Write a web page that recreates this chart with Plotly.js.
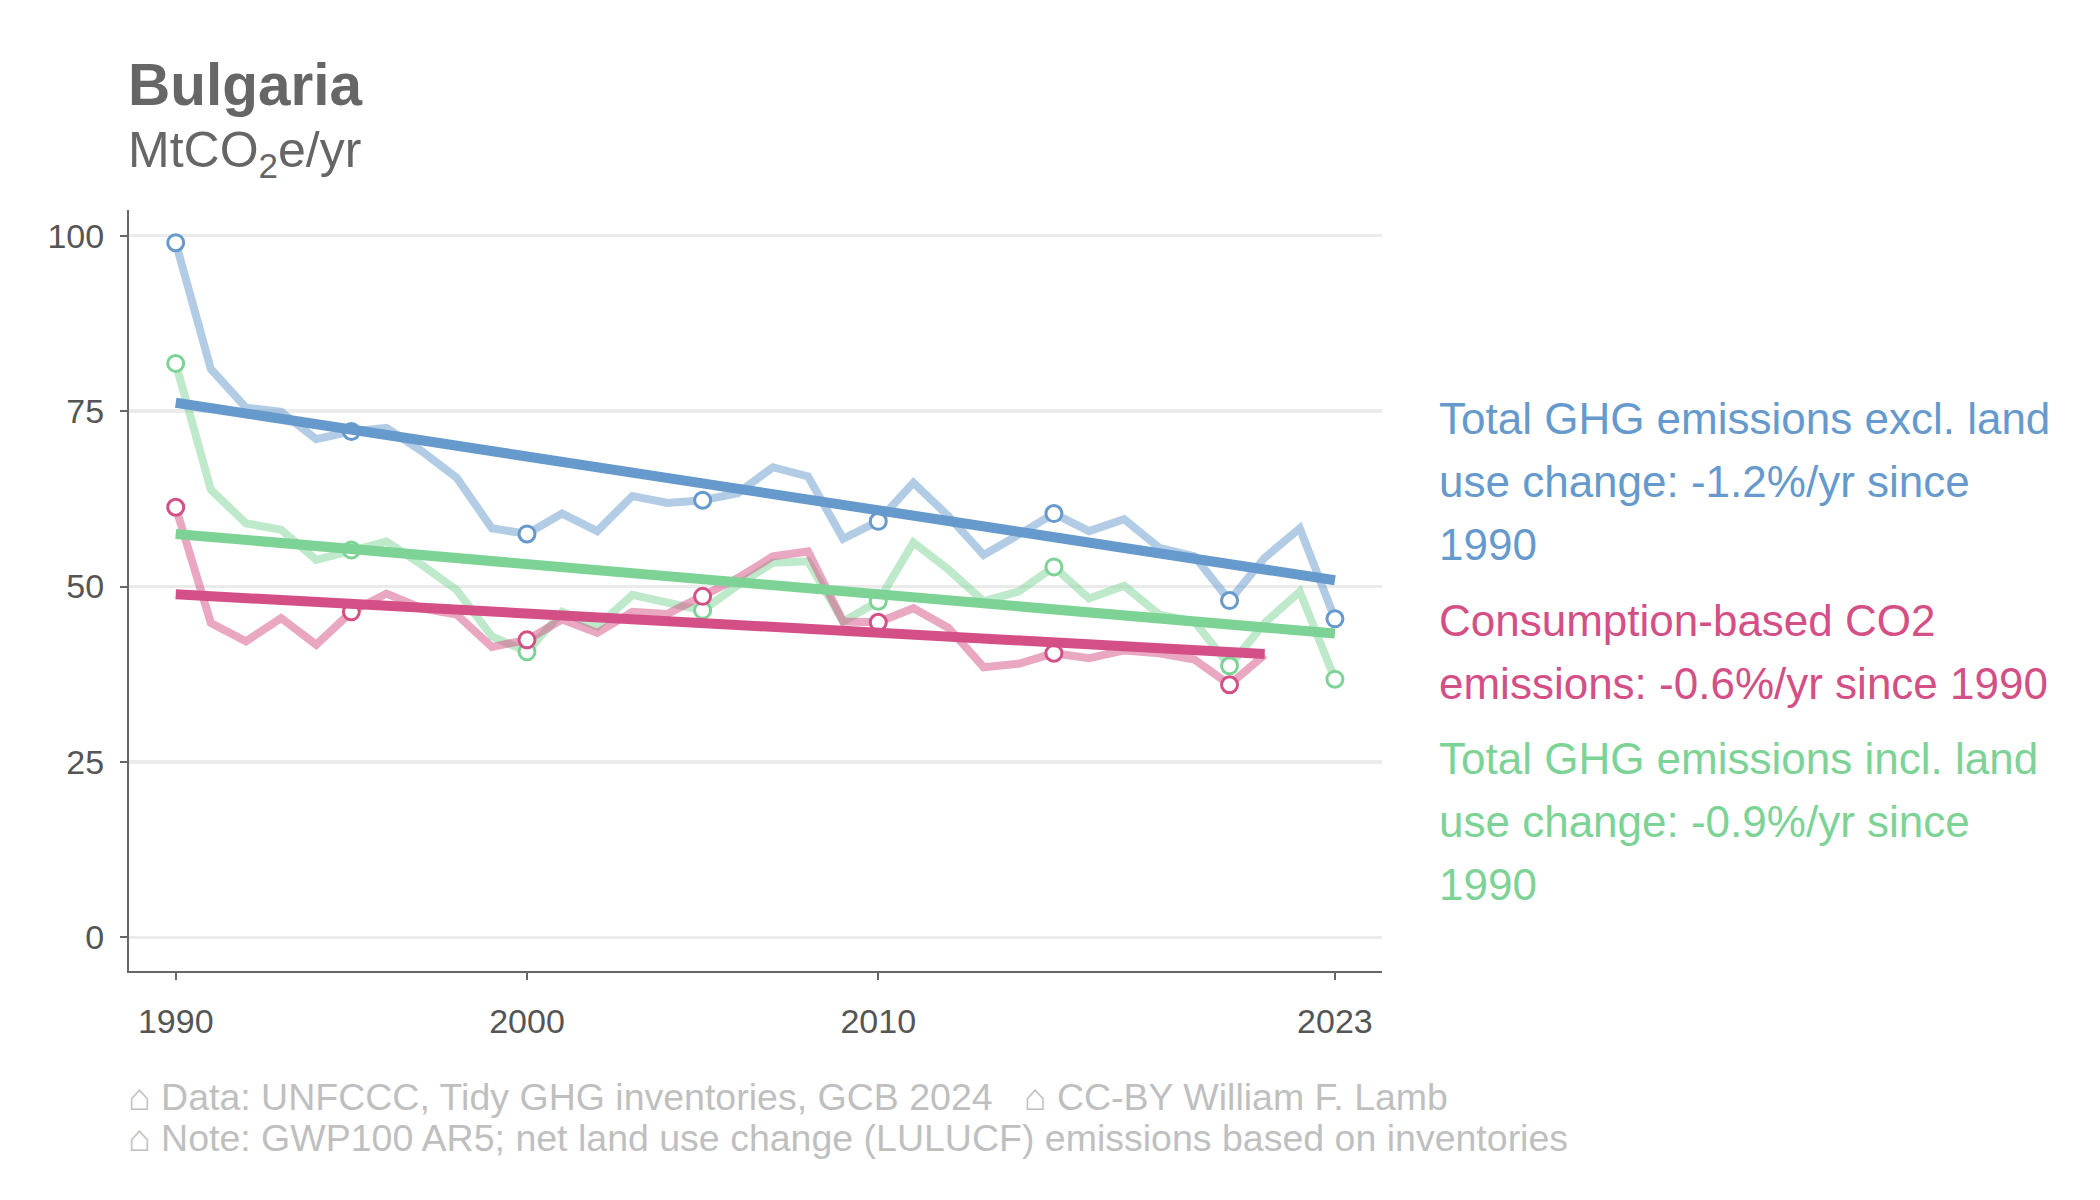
<!DOCTYPE html>
<html>
<head>
<meta charset="utf-8">
<script src="https://cdn.plot.ly/plotly-3.0.1.min.js"></script>
<style>html,body{margin:0;padding:0;background:#fff;}</style>
</head>
<body>
<div id="chart" style="width:2100px;height:1200px;"></div>
<script>
// ---- data ----
const years = [1990,1991,1992,1993,1994,1995,1996,1997,1998,1999,2000,2001,2002,2003,2004,2005,2006,2007,2008,2009,2010,2011,2012,2013,2014,2015,2016,2017,2018,2019,2020,2021,2022,2023];
const ghgExclLuc = [99.0,81.0,75.5,74.9,71.0,72.1,72.6,69.3,65.5,58.3,57.5,60.4,57.9,62.9,61.9,62.3,63.3,67.0,65.7,56.8,59.3,64.8,60.0,54.5,57.4,60.4,57.9,59.6,55.5,54.3,48.0,54.1,58.3,45.4];
const ghgInclLuc = [81.8,63.8,59.0,58.1,53.8,55.2,56.4,53.1,49.5,42.9,40.7,46.4,44.3,48.8,47.6,46.6,50.2,53.4,53.6,45.0,47.9,56.3,52.4,47.9,49.3,52.8,48.3,50.1,46.0,45.0,38.7,44.8,49.3,36.8];
const consYears = years.slice(0, 32); // 1990-2021
const consCo2 = [61.3,44.8,42.2,45.5,41.7,46.4,49.0,46.9,46.0,41.4,42.4,45.3,43.4,46.4,46.1,48.6,51.2,54.3,55.0,45.0,44.9,46.9,44.1,38.5,39.0,40.5,39.8,40.9,40.5,39.6,36.0,40.3];
const markerYears = [1990,1995,2000,2005,2010,2015,2020,2023];
const trendExclYears = [1990, 2023], trendExcl = [76.2, 50.9];
const trendInclYears = [1990, 2023], trendIncl = [57.5, 43.3];
const trendConsYears = [1990, 2021], trendCons = [48.9, 40.4];
const xTickVals = [1990, 2000, 2010, 2023];
const xTickText = ["1990", "2000", "2010", "2023"];
const yTickVals = [0, 25, 50, 75, 100];
const labelExcl = ["Total GHG emissions excl. land", "use change: -1.2%/yr since", "1990"];
const labelCons = ["Consumption-based CO2", "emissions: -0.6%/yr since 1990"];
const labelIncl = ["Total GHG emissions incl. land", "use change: -0.9%/yr since", "1990"];
const titleText = "Bulgaria";
const subtitleText = "MtCO<sub>2</sub>e/yr";
const footer1 = "\u2302 Data: UNFCCC, Tidy GHG inventories, GCB 2024   \u2302 CC-BY William F. Lamb";
const footer2 = "\u2302 Note: GWP100 AR5; net land use change (LULUCF) emissions based on inventories";

// ---- style ----
const BLUE = "#6699cc", PINK = "#d44f86", GREEN = "#7dd396";
const FONT = "Liberation Sans, Arial, sans-serif";
const W = 2100, H = 1200;
const M = {l: 129, r: 718, t: 210, b: 229};
const pw = W - M.l - M.r, ph = H - M.t - M.b;
const px = x => (x - M.l) / pw;
const py = y => (H - M.b - y) / ph;

function pick(xs, ys, sel) {
  const ox = [], oy = [];
  xs.forEach((x, i) => { if (sel.includes(x)) { ox.push(x); oy.push(ys[i]); } });
  return {x: ox, y: oy};
}

const traces = [];
function raw(x, y, c) {
  traces.push({x, y, type: "scatter", mode: "lines", line: {color: c, width: 8}, opacity: 0.5, hoverinfo: "skip"});
}
function pts(x, y, c) {
  const p = pick(x, y, markerYears);
  traces.push({x: p.x, y: p.y, type: "scatter", mode: "markers",
    marker: {symbol: "circle", size: 16, color: "#ffffff", line: {color: c, width: 3}}, hoverinfo: "skip"});
}
function trend(x, y, c) {
  traces.push({x, y, type: "scatter", mode: "lines", line: {color: c, width: 10}, hoverinfo: "skip"});
}
raw(years, ghgExclLuc, BLUE);
raw(years, ghgInclLuc, GREEN);
raw(consYears, consCo2, PINK);
pts(years, ghgExclLuc, BLUE);
pts(years, ghgInclLuc, GREEN);
pts(consYears, consCo2, PINK);
trend(trendExclYears, trendExcl, BLUE);
trend(trendInclYears, trendIncl, GREEN);
trend(trendConsYears, trendCons, PINK);

const ann = [];
function txt(text, xPix, yPix, size, color) {
  ann.push({text, xref: "paper", yref: "paper", x: px(xPix), y: py(yPix),
    xanchor: "left", yanchor: "middle", showarrow: false, align: "left",
    font: {family: FONT, size, color}});
}
txt("<b>" + titleText + "</b>", 126, 84, 58.5, "#666666");
txt(subtitleText, 126, 153, 50, "#666666");
const lh = 63;
labelExcl.forEach((t, i) => txt(t, 1437, 418 + i * lh, 44, BLUE));
labelCons.forEach((t, i) => txt(t, 1437, 620 + i * lh, 44, PINK));
labelIncl.forEach((t, i) => txt(t, 1437, 758 + i * lh, 44, GREEN));
txt(footer1, 126, 1097, 37.5, "#bfbfbf");
txt(footer2, 126, 1138, 37.5, "#bfbfbf");

const layout = {
  width: W, height: H, margin: M,
  paper_bgcolor: "#ffffff", plot_bgcolor: "#ffffff",
  showlegend: false,
  font: {family: FONT, color: "#555555"},
  xaxis: {
    range: [1988.67, 2024.34], tickmode: "array", tickvals: xTickVals, ticktext: xTickText,
    showgrid: false, zeroline: false, showline: true, linecolor: "#666666", linewidth: 2,
    ticks: "outside", ticklen: 7, tickwidth: 2, tickcolor: "#666666",
    tickfont: {family: FONT, size: 34, color: "#555555"}, ticklabelstandoff: 12
  },
  yaxis: {
    range: [-4.79, 103.66], tickmode: "array", tickvals: yTickVals,
    showgrid: true, gridcolor: "#ebebeb", gridwidth: 3.5, zeroline: false,
    showline: true, linecolor: "#666666", linewidth: 2,
    ticks: "outside", ticklen: 7, tickwidth: 2, tickcolor: "#666666",
    tickfont: {family: FONT, size: 34, color: "#555555"}, ticklabelstandoff: 9
  },
  annotations: ann
};
Plotly.newPlot("chart", traces, layout, {staticPlot: true, displayModeBar: false});
</script>
</body>
</html>
